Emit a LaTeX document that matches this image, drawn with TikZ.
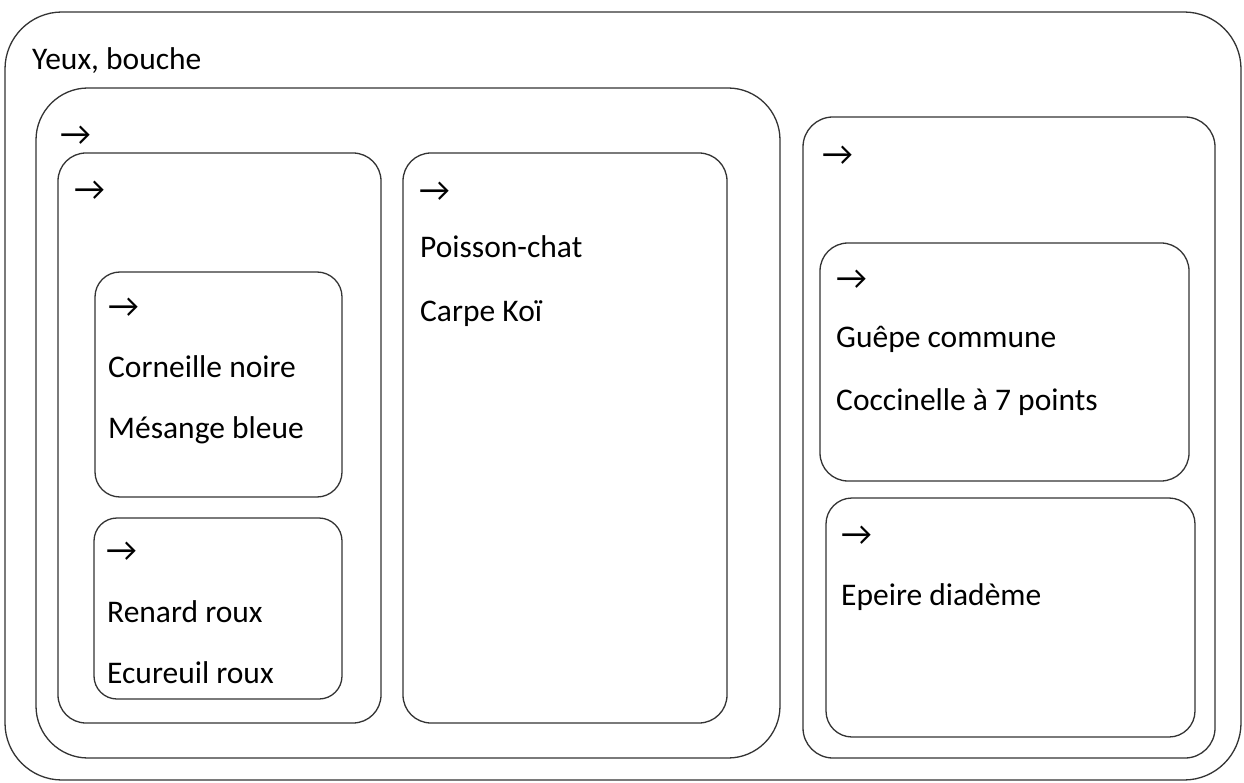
\documentclass[tikz,border=0pt]{standalone}
\usepackage{fontspec}
\setmainfont{Carlito}
\begin{document}
\begin{tikzpicture}[x=1pt,y=-1pt,
  box/.style={draw=black!80,line width=1.3pt},
  lbl/.style={anchor=base west,inner sep=0pt,font=\fontsize{31.5}{36}\selectfont},
  arr/.style={anchor=west,inner sep=0pt,font=\fontsize{34}{38}\selectfont}]
\useasboundingbox[fill=white] (0,0) rectangle (1244,783);
% frames
\draw[box,rounded corners=57pt] (5,12) rectangle (1241,780);
\draw[box,rounded corners=52pt] (36,88) rectangle (780,758);
\draw[box,rounded corners=28pt] (58,153) rectangle (381,723);
\draw[box,rounded corners=25pt] (95,272) rectangle (342,497);
\draw[box,rounded corners=23pt] (94,518) rectangle (342,699);
\draw[box,rounded corners=28pt] (403,153) rectangle (727,723);
\draw[box,rounded corners=30pt] (803,117) rectangle (1215,758);
\draw[box,rounded corners=28pt] (820,243) rectangle (1189,481);
\draw[box,rounded corners=26pt] (826,498) rectangle (1195,737);
% texts
\node[lbl] (t0) at (32,70) {Yeux, bouche};
\node[arr] (a1) at (60,136) {→};
\node[arr] (a2) at (74,191) {→};
\node[arr] (a3) at (108,308) {→};
\node[lbl] (c1) at (108,377) {Corneille noire};
\node[lbl] (c2) at (108,438) {Mésange bleue};
\node[arr] (a4) at (106,552) {→};
\node[lbl] (d1) at (107,622) {Renard roux};
\node[lbl] (d2) at (107,683) {Ecureuil roux};
\node[arr] (a5) at (419,192) {→};
\node[lbl] (e1) at (420,258) {Poisson-chat};
\node[lbl] (e2) at (420,322) {Carpe Koï};
\node[arr] (a6) at (822,156) {→};
\node[arr] (a7) at (836,280) {→};
\node[lbl] (g1) at (836,348) {Guêpe commune};
\node[lbl] (g2) at (836,410) {Coccinelle à 7 points};
\node[arr] (a8) at (841,536) {→};
\node[lbl] (h1) at (841,605) {Epeire diadème};
\end{tikzpicture}
\end{document}
